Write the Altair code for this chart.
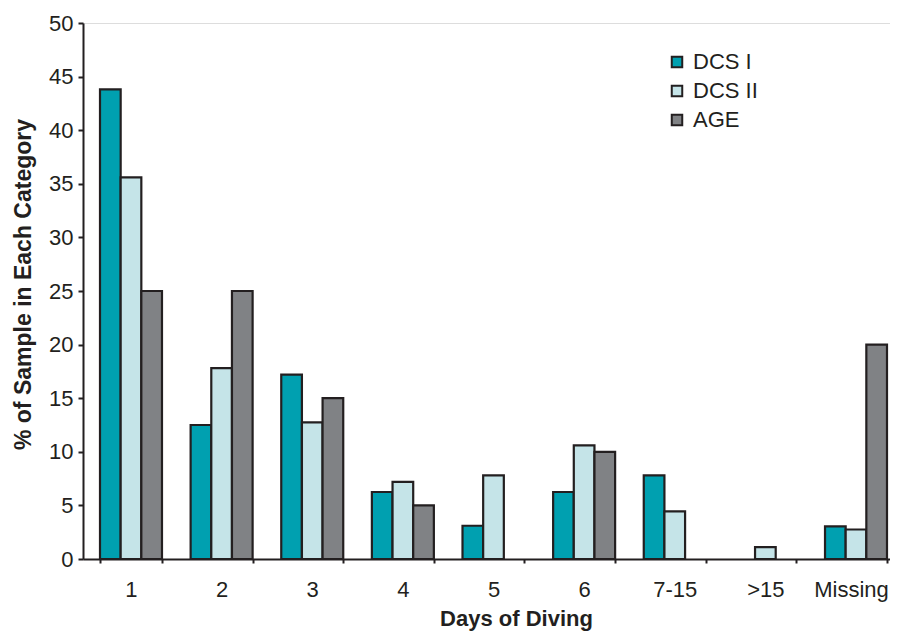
import altair as alt
import pandas as pd

categories = ["1", "2", "3", "4", "5", "6", "7-15", ">15", "Missing"]
series = ["DCS I", "DCS II", "AGE"]
dcs1 = [43.8, 12.5, 17.2, 6.25, 3.1, 6.25, 7.8, None, 3.05]
dcs2 = [35.6, 17.8, 12.75, 7.2, 7.8, 10.6, 4.45, 1.1, 2.75]
age = [25, 25, 15, 5, None, 10, None, None, 20]
colors = ["#00a0b0", "#c5e4e8", "#808285"]
y_ticks = [0, 5, 10, 15, 20, 25, 30, 35, 40, 45, 50]

rows = []
for s, vals in zip(series, [dcs1, dcs2, age]):
    for c, v in zip(categories, vals):
        if v is not None:
            rows.append({"cat": c, "series": s, "value": v})
df = pd.DataFrame(rows)

FONT = "Liberation Sans"
INK = "#231f20"

chart = alt.Chart(df).mark_bar(stroke=INK, strokeWidth=2.2).encode(
    x=alt.X(
        "cat:N",
        sort=categories,
        scale=alt.Scale(domain=categories, paddingInner=0.316, paddingOuter=0.1876),
        axis=alt.Axis(
            title="Days of Diving",
            labelAngle=0,
            tickBand="extent",
            tickSize=4,
            tickWidth=2,
            tickColor=INK,
            domainColor=INK,
            domainWidth=2,
            labelFont=FONT,
            labelFontSize=22,
            labelColor=INK,
            labelBaseline="alphabetic",
            labelPadding=33,
            labelOffset={"condition": {"test": "datum.value === 'Missing'", "value": -5}, "value": 0},
            titleFont=FONT,
            titleFontSize=22,
            titleFontWeight="bold",
            titleColor=INK,
            titleX=433,
            titleY=66,
            titleBaseline="alphabetic",
            titleAlign="center",
        ),
    ),
    xOffset=alt.XOffset(
        "series:N",
        sort=series,
        scale=alt.Scale(domain=series, paddingInner=0, paddingOuter=0),
    ),
    y=alt.Y(
        "value:Q",
        scale=alt.Scale(domain=[0, 50], nice=False),
        axis=alt.Axis(
            title="% of Sample in Each Category",
            values=y_ticks,
            grid=False,
            tickSize=5,
            tickWidth=2,
            tickColor=INK,
            domainColor=INK,
            domainWidth=2,
            labelFont=FONT,
            labelFontSize=22,
            labelColor=INK,
            labelPadding=5,
            titleFont=FONT,
            titleFontSize=23,
            titleFontWeight="bold",
            titleColor=INK,
            titleX=-53,
            titleY=261,
            titleBaseline="alphabetic",
            titleAlign="center",
        ),
    ),
    color=alt.Color(
        "series:N",
        sort=series,
        scale=alt.Scale(domain=series, range=colors),
        legend=alt.Legend(
            title=None,
            orient="none",
            legendX=583,
            legendY=28,
            padding=0,
            symbolType="square",
            symbolSize=110,
            symbolStrokeColor=INK,
            symbolStrokeWidth=2,
            labelFont=FONT,
            labelFontSize=22,
            labelColor=INK,
            labelOffset=5,
            rowPadding=7,
        ),
    ),
).properties(
    width=821,
    height=536,
    autosize=alt.AutoSizeParams(type="none"),
    padding={"left": 75, "top": 15, "right": -14, "bottom": 73},
).configure_view(stroke=None).configure(background="white")

chart.save("out.html", embed_options={"renderer": "svg", "actions": False})
